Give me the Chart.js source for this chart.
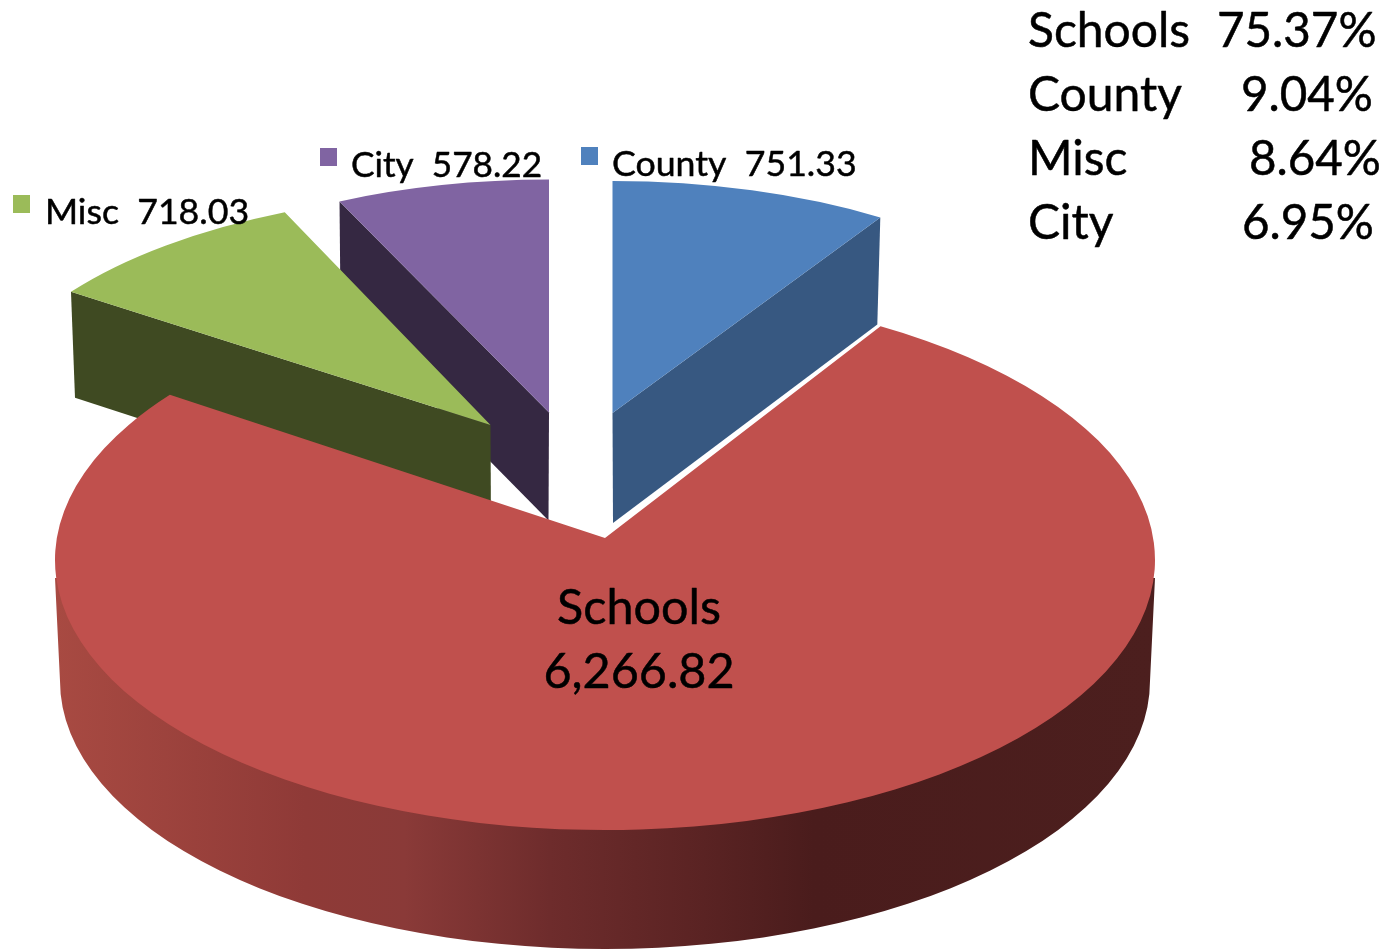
<!DOCTYPE html>
<html>
<head>
<meta charset="utf-8">
<title>Revenue by source</title>
<script src="https://cdn.jsdelivr.net/npm/chart.js@4/dist/chart.umd.min.js"></script>
<style>
  html, body { margin: 0; padding: 0; background: #fff; }
  #wrap { position: relative; width: 1397px; height: 950px; overflow: hidden; }
  canvas { display: block; }
</style>
</head>
<body>
<div id="wrap"><canvas id="pie" width="1397" height="950"></canvas></div>
<script>
// Slice order runs clockwise from twelve o'clock.
const categories = ['County', 'Schools', 'Misc', 'City'];
const amounts = [751.33, 6266.82, 718.03, 578.22];
const sliceColors = ['#4F81BD', '#C0504D', '#9BBB59', '#8064A2'];
const cutColors = ['#375881', '#4C1F1E', '#3F4A22', '#352842'];

// Side table in the top right corner.
const shareNames = ['Schools', 'County', 'Misc', 'City'];
const shareTexts = ['75.37%', '9.04%', '8.64%', '6.95%'];

const FONT = 'Lato, "Open Sans", sans-serif';

// Tilted placement of each exploded wedge: apex on screen, plane axes
// (radii plus a small shear from perspective), extrusion depths and the
// cut edge that faces the viewer.
const wedges = {
  County: { ax: 612.5, ay: 413, rx: 498, ry: 232, shearX: 0, shearY: 0, rimDepth: 107, apexDepth: 110, cut: 'end', rimLean: -3, apexLean: 0.5 },
  Misc:   { ax: 490.5, ay: 425, rx: 514, ry: 233, shearX: -13, shearY: 4, rimDepth: 106, apexDepth: 108, cut: 'start', rimLean: 4, apexLean: 0.5 },
  City:   { ax: 549, ay: 412.5, rx: 495, ry: 233, shearX: 0, shearY: 0, rimDepth: 108, apexDepth: 108, cut: 'start', rimLean: 1, apexLean: -0.5 }
};

// The large slice is seen in perspective: its apex sits above the ellipse centre.
const body = { ax: 605, ay: 538, cx: 605, cy: 560, rx: 550, ry: 270, slope: 0.49,
               bottomCy: 681, bottomRx: 545, bottomRy: 268, wallTop: 578 };

// Draw order, back to front.
const paintOrder = ['City', 'Misc', 'County'];

const clockAngle = a => a + Math.PI / 2;

// Follows a ray from the apex at a clock angle until it meets the rim ellipse.
function rimParam(angle) {
  const dx = Math.sin(angle), dy = -Math.cos(angle) * body.slope;
  const ox = body.ax - body.cx, oy = body.ay - body.cy;
  const A = (dx * dx) / (body.rx * body.rx) + (dy * dy) / (body.ry * body.ry);
  const B = 2 * ((ox * dx) / (body.rx * body.rx) + (oy * dy) / (body.ry * body.ry));
  const C = (ox * ox) / (body.rx * body.rx) + (oy * oy) / (body.ry * body.ry) - 1;
  const t = (-B + Math.sqrt(B * B - 4 * A * C)) / (2 * A);
  const x = ox + dx * t, y = oy + dy * t;
  return Math.atan2(y / body.ry, x / body.rx);
}

function drawWedge(ctx, el, name) {
  const w = wedges[name];
  const i = categories.indexOf(name);
  const edge = clockAngle(w.cut === 'end' ? el.endAngle : el.startAngle);
  const ux = Math.sin(edge), uy = -Math.cos(edge);
  const rimX = w.ax + w.rx * ux + w.shearX * uy;
  const rimY = w.ay + w.shearY * ux + w.ry * uy;

  // Exposed cut face below the wedge.
  ctx.fillStyle = cutColors[i];
  ctx.beginPath();
  ctx.moveTo(w.ax, w.ay);
  ctx.lineTo(rimX, rimY);
  ctx.lineTo(rimX + w.rimLean, rimY + w.rimDepth);
  ctx.lineTo(w.ax + w.apexLean, w.ay + w.apexDepth);
  ctx.closePath();
  ctx.fill();

  // Top face: the library's own arc, mapped onto the tilted plane.
  const R = el.outerRadius;
  const a = w.rx / R, b = w.shearY / R, c = w.shearX / R, d = w.ry / R;
  ctx.save();
  ctx.transform(a, b, c, d, w.ax - a * el.x - c * el.y, w.ay - b * el.x - d * el.y);
  el.draw(ctx);
  ctx.restore();
}

function drawBody(ctx, el) {
  const i = categories.indexOf('Schools');
  const wall = ctx.createLinearGradient(55, 0, 1155, 0);
  wall.addColorStop(0, '#A84A42');
  wall.addColorStop(0.227, '#8F3A37');
  wall.addColorStop(0.318, '#8A3A38');
  wall.addColorStop(0.45, '#6E2C2C');
  wall.addColorStop(0.59, '#5A2323');
  wall.addColorStop(0.69, '#4A1C1C');
  wall.addColorStop(1, cutColors[i]);

  ctx.fillStyle = wall;
  ctx.beginPath();
  ctx.moveTo(body.cx - body.rx, body.wallTop);
  ctx.lineTo(body.cx - body.bottomRx, body.bottomCy);
  ctx.ellipse(body.cx, body.bottomCy, body.bottomRx, body.bottomRy, 0, Math.PI, 0, true);
  ctx.lineTo(body.cx + body.rx, body.wallTop);
  ctx.closePath();
  ctx.fill();

  ctx.fillStyle = sliceColors[i];
  ctx.beginPath();
  ctx.moveTo(body.ax, body.ay);
  ctx.ellipse(body.cx, body.cy, body.rx, body.ry, 0,
    rimParam(clockAngle(el.startAngle)), rimParam(clockAngle(el.endAngle)));
  ctx.closePath();
  ctx.fill();
}

// Filled text with a hairline outline, which gives Lato a slightly heavier colour.
function label(ctx, text, x, y, size, align) {
  ctx.font = size + 'px ' + FONT;
  ctx.textAlign = align || 'left';
  ctx.fillStyle = '#000';
  ctx.strokeStyle = '#000';
  ctx.lineWidth = 0.5;
  ctx.lineJoin = 'round';
  ctx.fillText(text, x, y);
  ctx.strokeText(text, x, y);
}

function drawText(ctx) {
  const amount = name => amounts[categories.indexOf(name)];
  const money = v => v.toLocaleString('en-US', { minimumFractionDigits: 2, maximumFractionDigits: 2 });

  ctx.textBaseline = 'alphabetic';

  // Side table of shares.
  const rowY = [47, 111, 175, 239];
  const shareX = [1217, 1241, 1249, 1242];
  shareNames.forEach((n, k) => {
    label(ctx, n, 1028, rowY[k], 48);
    label(ctx, shareTexts[k], shareX[k], rowY[k], 47.5);
  });

  // Wedge labels with colour keys.
  const keys = {
    City: [320, 148, 351, 177, 35.2],
    County: [581, 147, 612, 176, 35.7],
    Misc: [13, 195, 45, 224, 35.7]
  };
  Object.keys(keys).forEach(n => {
    const [bx, by, tx, ty, size] = keys[n];
    ctx.fillStyle = sliceColors[categories.indexOf(n)];
    ctx.fillRect(bx, by, 17, 18);
    label(ctx, n + '  ' + money(amount(n)), tx, ty, size);
  });

  // Label on the large slice.
  label(ctx, 'Schools', 639, 624, 48.5, 'center');
  label(ctx, money(amount('Schools')), 639, 688, 48.5, 'center');
}

const tiltedPie = {
  id: 'tiltedPie',
  beforeDatasetDraw(chart) {
    const ctx = chart.ctx;
    const arcs = chart.getDatasetMeta(0).data;
    paintOrder.forEach(n => drawWedge(ctx, arcs[categories.indexOf(n)], n));
    drawBody(ctx, arcs[categories.indexOf('Schools')]);
    drawText(ctx);
    return false;
  }
};

new Chart(document.getElementById('pie'), {
  type: 'pie',
  data: {
    labels: categories,
    datasets: [{ data: amounts, backgroundColor: sliceColors, borderWidth: 0 }]
  },
  options: {
    responsive: false,
    animation: false,
    rotation: 0,
    layout: { padding: 0 },
    plugins: { legend: { display: false }, tooltip: { enabled: false } }
  },
  plugins: [tiltedPie]
});
</script>
</body>
</html>
